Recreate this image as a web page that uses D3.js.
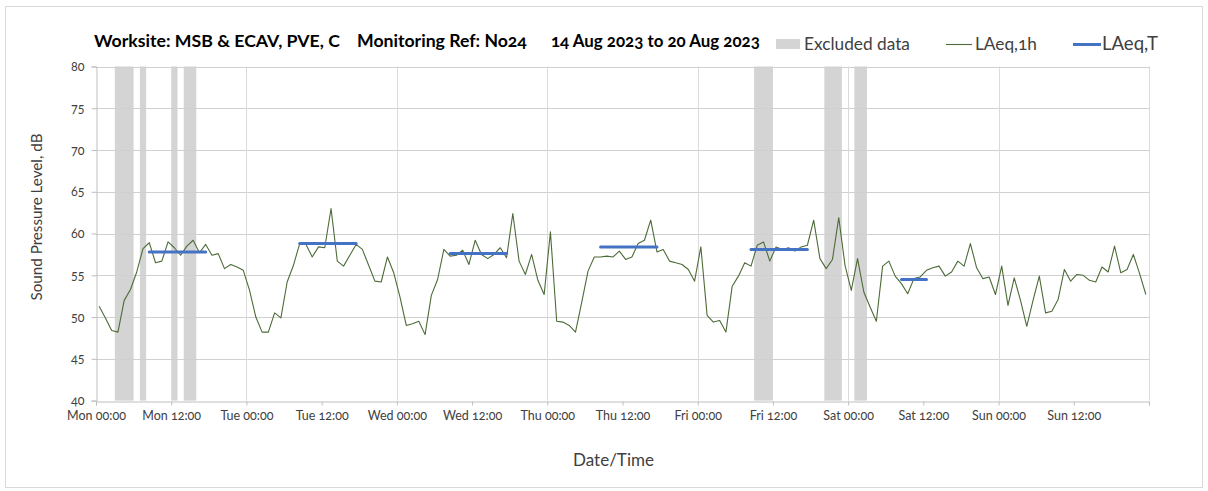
<!DOCTYPE html>
<html><head><meta charset="utf-8">
<script src="https://cdn.jsdelivr.net/npm/d3@7"></script>
<style>
html,body{margin:0;padding:0;background:#fff;}
svg{display:block;font-family:Lato,"Open Sans",sans-serif;font-variant-numeric:oldstyle-nums;}
</style></head><body>
<svg id="c" width="1208" height="491"></svg>
<script>
// ---- data ----
const dayLabels = ["Mon","Tue","Wed","Thu","Fri","Sat","Sun"];
const tickHours = d3.range(0, 168, 12);
const yTicks = [40,45,50,55,60,65,70,75,80];
// hourly LAeq,1h values, Mon 00:00 .. Sun 23:00
const laeq1h = [
51.3,49.9,48.4,48.2,52.0,53.3,55.4,58.2,58.9,56.5,56.7,59.0,58.3,57.4,58.5,59.2,57.7,58.7,57.4,57.6,55.8,56.3,56.0,55.6,
53.2,50.0,48.2,48.2,50.5,49.9,54.2,56.2,58.8,58.7,57.2,58.4,58.3,63.0,56.7,56.1,57.4,58.7,58.1,56.2,54.3,54.2,57.2,55.3,
52.4,49.0,49.2,49.5,47.9,52.6,54.5,58.1,57.3,57.4,58.0,56.3,59.2,57.5,57.0,57.5,58.3,57.1,62.4,56.7,55.1,57.5,54.4,52.7,
60.2,49.5,49.4,49.0,48.2,51.8,55.5,57.2,57.2,57.3,57.2,57.9,56.9,57.2,58.8,59.2,61.6,57.8,58.1,56.7,56.5,56.3,55.7,54.3,
58.4,50.2,49.4,49.6,48.2,53.7,54.9,56.5,56.1,58.6,59.0,56.7,58.4,58.1,58.3,57.9,58.4,58.6,61.6,57.0,55.8,56.9,61.9,56.2,
53.2,57.0,53.0,51.2,49.5,56.1,56.7,54.9,54.0,52.8,54.6,54.8,55.6,55.9,56.1,54.9,55.4,56.7,56.1,58.8,55.9,54.6,54.8,52.7,
56.1,51.4,54.7,52.0,48.9,52.0,54.9,50.5,50.7,52.1,55.7,54.3,55.1,55.0,54.4,54.2,56.0,55.4,58.5,55.3,55.7,57.5,55.2,52.7
];
const pointOffset = 0.5; // hourly values plotted at mid-hour
// LAeq,T periods: [startHour, endHour, level]
const laeqTStart = [8.5, 32.5, 56.5, 80.5, 104.5, 128.5];
const laeqTEnd   = [17.5, 41.5, 65.5, 89.5, 113.5, 132.5];
const laeqTVal   = [57.8, 58.8, 57.6, 58.4, 58.1, 54.5];
// excluded data periods
const exclStart = [3, 7, 12, 14, 105, 116.2, 121];
const exclEnd   = [6, 8, 13, 16, 108, 119, 123];

// ---- layout ----
const svg = d3.select("#c");
const L = 96, R = 1149, T = 66.5, B = 400.6;
const x = d3.scaleLinear().domain([0,168]).range([L,R]);
const y = d3.scaleLinear().domain([40,80]).range([B,T]);

function fit(sel, w){
  const n = sel.node(); const fs = parseFloat(sel.style("font-size"));
  const cur = n.getComputedTextLength();
  sel.style("font-size", (fs*w/cur).toFixed(2)+"px");
  return sel;
}

svg.append("rect").attr("x",5.5).attr("y",6.5).attr("width",1197).attr("height",481)
  .attr("fill","#fff").attr("stroke","#d9d9d9");

// excluded bars
svg.append("g").selectAll("rect").data(exclStart).join("rect")
  .attr("x",(d)=>x(d)).attr("width",(d,i)=>x(exclEnd[i])-x(d))
  .attr("y",T).attr("height",B-T).attr("fill","#d4d4d4");

// gridlines
svg.append("g").selectAll("line").data(yTicks.slice(1)).join("line")
  .attr("x1",L).attr("x2",R).attr("y1",d=>Math.round(y(d))+0.5).attr("y2",d=>Math.round(y(d))+0.5)
  .attr("stroke","#d0d0d0").attr("stroke-width",1);
svg.append("g").selectAll("line").data(d3.range(24,169,24)).join("line")
  .attr("y1",T).attr("y2",B).attr("x1",d=>Math.round(x(d))+0.5).attr("x2",d=>Math.round(x(d))+0.5)
  .attr("stroke","#dadada").attr("stroke-width",1);

// axes
const yAxis = d3.axisLeft(y).tickValues(yTicks).tickSize(5).tickPadding(7);
const gy = svg.append("g").attr("transform",`translate(${L+0.5},0)`).call(yAxis);
gy.select(".domain").attr("stroke","#bfbfbf");
gy.selectAll(".tick line").attr("stroke","#bfbfbf");
gy.selectAll(".tick text").attr("fill","#404040").style("font-size","12.5px").style("font-family","Lato,sans-serif");

const xAxis = d3.axisBottom(x).tickValues(tickHours.concat([168])).tickSize(4).tickPadding(6)
  .tickFormat(h => h>=168 ? "" : dayLabels[Math.floor(h/24)] + " " + (h%24===0?"00:00":"12:00"));
const gx = svg.append("g").attr("transform",`translate(0,${Math.round(B)+0.5})`).call(xAxis);
gx.select(".domain").attr("stroke","#bfbfbf");
gx.selectAll(".tick line").attr("stroke","#bfbfbf");
gx.selectAll(".tick text").attr("fill","#404040").style("font-size","12.5px").style("font-family","Lato,sans-serif");

// LAeq,1h line
const line = d3.line().x((d,i)=>x(i+pointOffset)).y(d=>y(d));
svg.append("path").datum(laeq1h).attr("d",line).attr("fill","none")
  .attr("stroke","#4d6b38").attr("stroke-width",1.1).attr("stroke-linejoin","round");

// LAeq,T segments
svg.append("g").selectAll("line").data(laeqTVal).join("line")
  .attr("x1",(d,i)=>x(laeqTStart[i])).attr("x2",(d,i)=>x(laeqTEnd[i]))
  .attr("y1",d=>y(d)).attr("y2",d=>y(d))
  .attr("stroke","#4472c4").attr("stroke-width",3).attr("stroke-linecap","round");

// title
const title = svg.append("g").style("font-weight","bold").style("font-size","16px").attr("fill","#000");
fit(title.append("text").attr("x",94).attr("y",46.5).style("font-size","16px").text("Worksite: MSB & ECAV, PVE, C"), 246);
fit(title.append("text").attr("x",357).attr("y",46.5).style("font-size","16px").text("Monitoring Ref: No24"), 170);
fit(title.append("text").attr("x",551).attr("y",46.5).style("font-size","16px").text("14 Aug 2023 to 20 Aug 2023"), 209);

// legend
const lg = svg.append("g").attr("fill","#404040");
lg.append("rect").attr("x",776).attr("y",39).attr("width",24).attr("height",10).attr("fill","#d4d4d4");
fit(lg.append("text").attr("x",804).attr("y",50).style("font-size","16px").text("Excluded data"), 106);
lg.append("line").attr("x1",946).attr("x2",972).attr("y1",44.5).attr("y2",44.5).attr("stroke","#4d6b38").attr("stroke-width",1.1);
fit(lg.append("text").attr("x",975).attr("y",50).style("font-size","16px").text("LAeq,1h"), 62);
lg.append("line").attr("x1",1073).attr("x2",1101).attr("y1",44.5).attr("y2",44.5).attr("stroke","#4472c4").attr("stroke-width",3);
fit(lg.append("text").attr("x",1102).attr("y",50).style("font-size","16px").text("LAeq,T"), 56);

// axis titles
fit(svg.append("text").attr("transform","translate(42,217) rotate(-90)").attr("text-anchor","middle")
  .style("font-size","15px").attr("fill","#404040").text("Sound Pressure Level, dB"), 167);
fit(svg.append("text").attr("x",613.5).attr("y",466).attr("text-anchor","middle")
  .style("font-size","16px").attr("fill","#404040").text("Date/Time"), 81);
</script>
</body></html>
